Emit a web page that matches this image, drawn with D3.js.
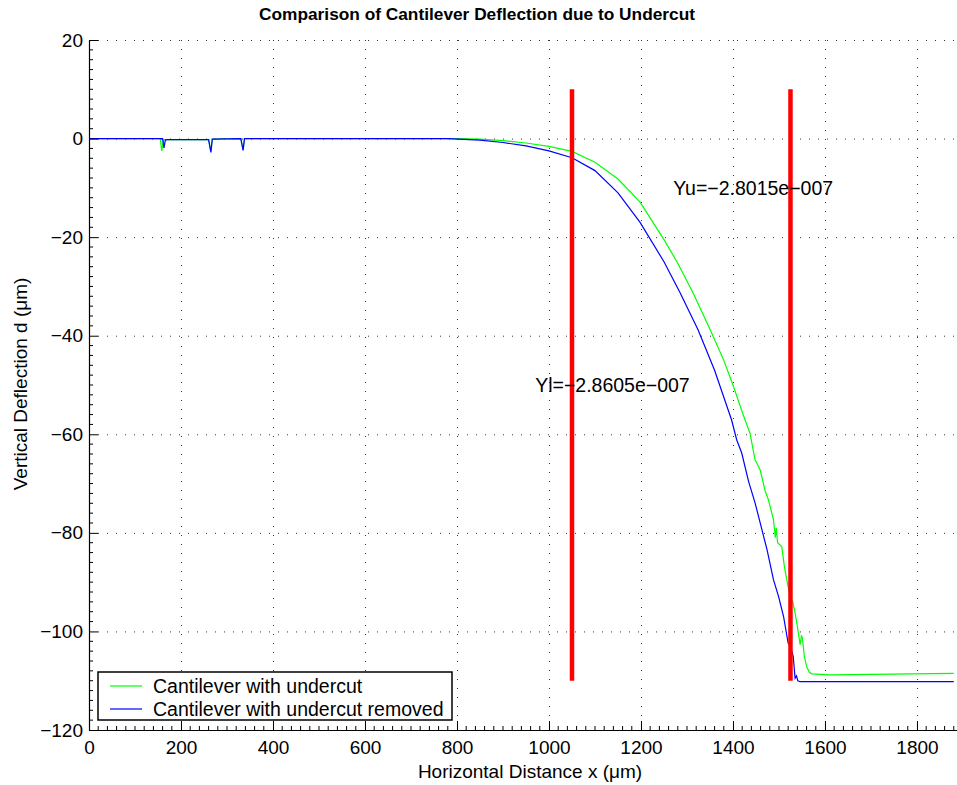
<!DOCTYPE html>
<html><head><meta charset="utf-8">
<script src="https://cdn.jsdelivr.net/npm/d3@7"></script>
<style>body{margin:0;background:#fff}svg{display:block}text{font-family:"Liberation Sans",Arial,sans-serif}</style>
</head><body><svg id="c" width="957" height="785"></svg>
<script>
const xTicks=[0,200,400,600,800,1000,1200,1400,1600,1800];
const yTicks=[-120,-100,-80,-60,-40,-20,0,20];
const seriesNames=["Cantilever with undercut","Cantilever with undercut removed"];
const greenX=[0,155,158,162,165,260,265,268,330,335,338,800,850,900,950,1000,1050,1100,1150,1198,1250,1280,1313,1354,1380,1400,1422,1437,1448,1459,1470,1477,1488,1492,1494,1497,1506,1512,1517,1524,1530,1535,1540,1546,1549,1551,1555,1560,1566,1571,1611,1700,1880];
const greenY=[0,0,-2.5,-0.3,-0.2,-0.2,-2.6,-0.1,0,-2.3,0,0,-0.1,-0.4,-0.9,-1.6,-2.6,-4.8,-8.2,-12.9,-20.5,-25.3,-31.3,-39.5,-45,-50,-56,-59.8,-65.2,-67.2,-71.5,-73.3,-77.3,-81,-79,-82,-82.8,-87,-89.5,-92.9,-94,-96.3,-99,-102.7,-100.8,-101.4,-105,-107.1,-108.3,-108.6,-108.8,-108.7,-108.5];
const blueX=[0,160,163,166,170,260,265,268,330,335,338,780,850,900,950,1000,1050,1100,1150,1198,1250,1285,1324,1360,1397,1408,1419,1434,1448,1463,1474,1488,1499,1510,1520,1525,1531,1535,1538,1541,1546,1880];
const blueY=[0,0,-1.9,-0.3,-0.2,-0.2,-2.8,-0.1,0,-2.4,0,0,-0.3,-0.8,-1.5,-2.5,-3.9,-6.5,-11,-17,-25,-31.3,-38.8,-47,-57.1,-61.1,-63.8,-69.6,-73.9,-79.4,-83.4,-89.5,-92.9,-97,-102.4,-103,-105.1,-109.5,-109,-110,-110.2,-110.2];
const markerX=[1050,1525];
const markerY=[10,-110];
const annotations=[{x:970,y:-50,t:"Yl=−2.8605e−007"},{x:1270,y:-10,t:"Yu=−2.8015e−007"}];

const svg=d3.select("#c");
const L=89,R=957,T=40,B=730;
const x=d3.scaleLinear().domain([0,1887]).range([L,R]);
const y=d3.scaleLinear().domain([-120,20]).range([B,T]);

// grid
const grid=svg.append("g").attr("stroke","#333").attr("stroke-width",1).attr("stroke-dasharray","1,8");
xTicks.forEach(v=>{ if(v>0) grid.append("line").attr("x1",x(v)+0.5).attr("x2",x(v)+0.5).attr("y1",T).attr("y2",B);});
yTicks.forEach(v=>{ if(v>-120) grid.append("line").attr("y1",y(v)+0.5).attr("y2",y(v)+0.5).attr("x1",L).attr("x2",R);});

// curves
svg.append("defs").append("clipPath").attr("id","cp").append("rect").attr("x",L).attr("y",T).attr("width",R-L).attr("height",B-T);
const line=d3.line().x(d=>x(d[0])).y(d=>y(d[1]));
const g=svg.append("g").attr("clip-path","url(#cp)");
g.append("path").datum(greenX.map((v,i)=>[v,greenY[i]])).attr("d",line).attr("fill","none").attr("stroke","#00ff00").attr("stroke-width",1.2);
g.append("path").datum(blueX.map((v,i)=>[v,blueY[i]])).attr("d",line).attr("fill","none").attr("stroke","#0000ff").attr("stroke-width",1.2);
markerX.forEach(v=>{
  g.append("line").attr("x1",x(v)).attr("x2",x(v)).attr("y1",y(markerY[0])).attr("y2",y(markerY[1])).attr("stroke","#ff0000").attr("stroke-width",4.5);
});
annotations.forEach(a=>{
  svg.append("text").attr("x",x(a.x)).attr("y",y(a.y)).attr("dy","0.35em").attr("font-size",19.5).attr("fill","#000").text(a.t);
});

// axes
const xAxis=d3.axisBottom(x).tickValues(xTicks).tickSizeInner(-9).tickSizeOuter(0).tickPadding(11).tickFormat(d3.format("d"));
const xa=svg.append("g").attr("transform",`translate(0,${B})`).call(xAxis);
const yAxis=d3.axisLeft(y).tickValues(yTicks).tickSizeInner(-9).tickSizeOuter(0).tickPadding(6).tickFormat(d3.format("d"));
const ya=svg.append("g").attr("transform",`translate(${L},0)`).call(yAxis);
[xa,ya].forEach(a=>{a.selectAll("text").attr("font-size",19).attr("fill","#000").style("font-family","'Liberation Sans',Arial,sans-serif");a.selectAll("line,path").attr("stroke","#000");a.select(".domain").attr("stroke-width",1.2);});
// minor ticks
const mt=svg.append("g").attr("stroke","#000").attr("stroke-width",1);
d3.range(0,1887,20).forEach(v=>{ if(v%200) mt.append("line").attr("x1",x(v)).attr("x2",x(v)).attr("y1",B).attr("y2",B-4);});
d3.range(-120,20,2).forEach(v=>{ if(v%20) mt.append("line").attr("y1",y(v)).attr("y2",y(v)).attr("x1",L).attr("x2",L+4);});

// labels
svg.append("text").attr("x",477).attr("y",20).attr("text-anchor","middle").attr("font-size",17.3).attr("font-weight","bold").text("Comparison of Cantilever Deflection due to Undercut");
svg.append("text").attr("x",530).attr("y",778).attr("text-anchor","middle").attr("font-size",19).text("Horizontal Distance x (μm)");
svg.append("text").attr("transform","translate(27,384) rotate(-90)").attr("text-anchor","middle").attr("font-size",19).text("Vertical Deflection d (μm)");

// legend
const lg=svg.append("g");
lg.append("rect").attr("x",98).attr("y",672).attr("width",354).attr("height",48).attr("fill","#fff").attr("stroke","#000").attr("stroke-width",1.5);
const cols=["#00ff00","#0000ff"];
seriesNames.forEach((n,i)=>{
  const yy=686+i*23;
  lg.append("line").attr("x1",110).attr("x2",142).attr("y1",yy).attr("y2",yy).attr("stroke",cols[i]).attr("stroke-width",1.2);
  lg.append("text").attr("x",153).attr("y",yy).attr("dy","0.35em").attr("font-size",19.5).text(n);
});
</script></body></html>
